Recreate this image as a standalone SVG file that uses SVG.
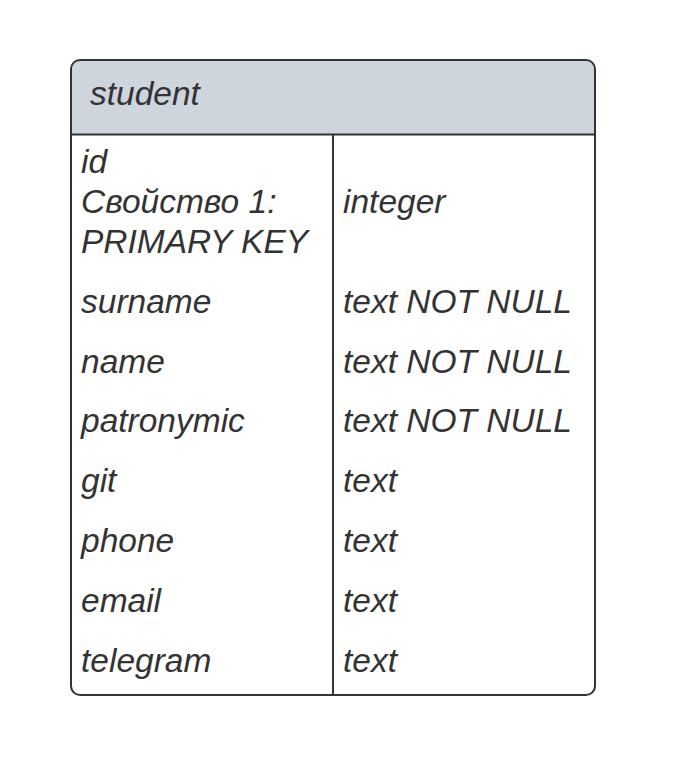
<svg xmlns="http://www.w3.org/2000/svg" width="686" height="763" viewBox="0 0 686 763">
<style>
.t{font-family:"Liberation Sans",Arial,sans-serif;font-style:italic;font-size:33.5px;fill:#333333}
.ln{stroke:#333333;stroke-width:2;fill:none}
</style>
<rect width="686" height="763" fill="#ffffff"/>
<g id="student">
<path d="M71,134.5 V69 Q71,60 80,60 H586 Q595,60 595,69 V134.5 Z" fill="#cfd5dd"/>
<rect x="71" y="60" width="524" height="635" rx="9" class="ln"/>
<line x1="71" y1="134.5" x2="595" y2="134.5" class="ln"/>
<line x1="333" y1="134.5" x2="333" y2="695" class="ln"/>
<text class="t" x="90" y="105">student</text>
<text class="t" x="81" y="173">id</text>
<text class="t" x="81" y="213">Свойство 1:</text>
<text class="t" x="81" y="253">PRIMARY KEY</text>
<text class="t" x="343" y="213">integer</text>
<text class="t" x="81" y="313">surname</text>
<text class="t" x="343" y="313">text NOT NULL</text>
<text class="t" x="81" y="373">name</text>
<text class="t" x="343" y="373">text NOT NULL</text>
<text class="t" x="81" y="432">patronymic</text>
<text class="t" x="343" y="432">text NOT NULL</text>
<text class="t" x="81" y="492">git</text>
<text class="t" x="343" y="492">text</text>
<text class="t" x="81" y="552">phone</text>
<text class="t" x="343" y="552">text</text>
<text class="t" x="81" y="612">email</text>
<text class="t" x="343" y="612">text</text>
<text class="t" x="81" y="672">telegram</text>
<text class="t" x="343" y="672">text</text>
</g>
<g id="connectors"></g>
</svg>
